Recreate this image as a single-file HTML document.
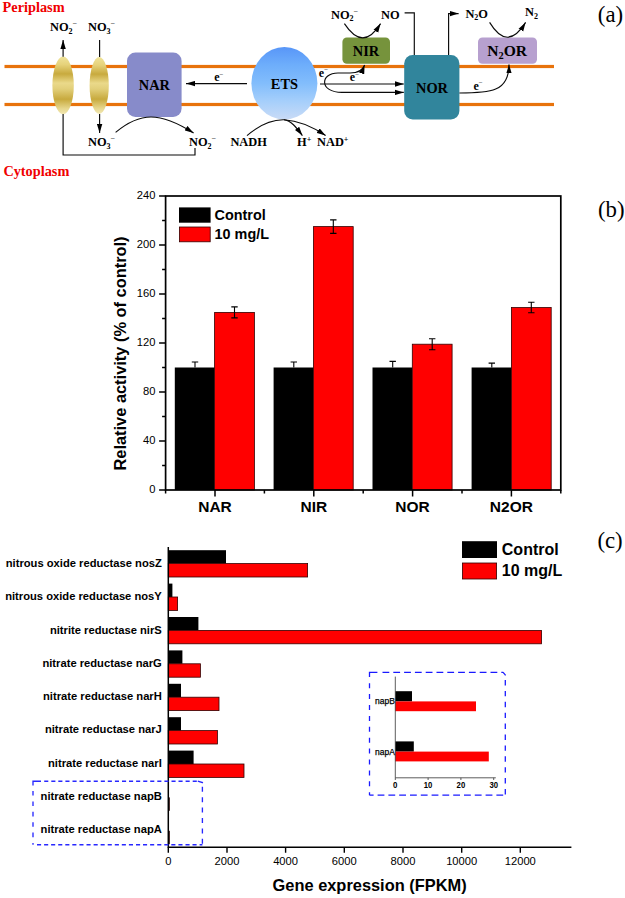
<!DOCTYPE html>
<html>
<head>
<meta charset="utf-8">
<title>Figure</title>
<style>
html,body{margin:0;padding:0;background:#fff;}
body{width:625px;height:898px;overflow:hidden;}
svg{display:block;}
.sb{font-family:"Liberation Serif",serif;font-weight:bold;fill:#000;}
.sr{font-family:"Liberation Serif",serif;fill:#000;}
.ab{font-family:"Liberation Sans",sans-serif;font-weight:bold;fill:#000;}
.ar{font-family:"Liberation Sans",sans-serif;fill:#000;}
</style>
</head>
<body>
<svg width="625" height="898" viewBox="0 0 625 898">
<defs>
<linearGradient id="gold" x1="0" y1="0" x2="0" y2="1">
<stop offset="0" stop-color="#efe39a"/>
<stop offset="0.14" stop-color="#e6d27a"/>
<stop offset="0.30" stop-color="#c8aa3e"/>
<stop offset="0.46" stop-color="#ead98a"/>
<stop offset="0.56" stop-color="#e2cf7a"/>
<stop offset="0.74" stop-color="#c8aa3e"/>
<stop offset="0.90" stop-color="#e6d68c"/>
<stop offset="1" stop-color="#f2e8b4"/>
</linearGradient>
<linearGradient id="ets" x1="0" y1="0" x2="0" y2="1">
<stop offset="0" stop-color="#5896f8"/>
<stop offset="0.25" stop-color="#6eaefb"/>
<stop offset="0.5" stop-color="#82bdfc"/>
<stop offset="0.75" stop-color="#a6cffb"/>
<stop offset="1" stop-color="#c9dbf6"/>
</linearGradient>
<marker id="ah" viewBox="0 0 10 6" refX="10" refY="3" markerWidth="9" markerHeight="6" markerUnits="userSpaceOnUse" orient="auto-start-reverse">
<path d="M0,0 L10,3 L0,6 Z" fill="#000"/>
</marker>
</defs>
<rect x="0" y="0" width="625" height="898" fill="#fff"/>

<!-- ================= PANEL A ================= -->
<g id="panelA">
<!-- membrane -->
<rect x="4.5" y="64.9" width="549.5" height="3.2" fill="#e8730c"/>
<rect x="4.5" y="102.9" width="549.5" height="3.2" fill="#e8730c"/>
<!-- transporters -->
<ellipse cx="63.1" cy="85.4" rx="10.7" ry="28.8" fill="url(#gold)"/>
<ellipse cx="99.2" cy="85.5" rx="9.6" ry="28.4" fill="url(#gold)"/>
<!-- boxes -->
<rect x="127" y="52.5" width="54.6" height="64.5" rx="8.5" fill="#878bca"/>
<ellipse cx="284.4" cy="83.3" rx="33" ry="36.3" fill="url(#ets)"/>
<rect x="342.4" y="37.5" width="47.6" height="26.2" rx="4.5" fill="#76933c"/>
<rect x="404.2" y="55" width="55.2" height="64.6" rx="8.5" fill="#31859c"/>
<rect x="478" y="37.5" width="59" height="26.2" rx="4.5" fill="#b7a0cf"/>
<!-- lines / arrows -->
<g fill="none" stroke="#0a0a0a" stroke-width="1.15">
<path d="M63.1,56.8 L63.1,39.9" marker-end="url(#ah)"/>
<path d="M99.6,40 L99.6,57"/>
<path d="M99.6,114 L99.6,133" marker-end="url(#ah)"/>
<path d="M63.1,114 L63.1,155 L195,155 L195,148"/>
<path d="M115.6,132.4 C128,122 140,117 151,117 C166,117 180,124.4 193.6,133" marker-end="url(#ah)"/>
<path d="M247,83.6 L186,83.6" marker-end="url(#ah)"/>
<path d="M320,84 L403.8,84" marker-end="url(#ah)"/>
<path d="M364.6,65 C362.5,71 358,73 350,73 L338,73 C320,73 319,92.4 342,92.4 L403.8,92.4" marker-start="url(#ah)" marker-end="url(#ah)"/>
<path d="M344.4,23.6 Q363,52 380.6,23.6" marker-end="url(#ah)"/>
<path d="M404.6,12.8 L414.3,12.8 L414.3,55"/>
<path d="M448.6,55 L448.6,13.6 L458.6,13.6" marker-end="url(#ah)"/>
<path d="M489.6,22.4 Q507.4,52 525.6,22.4" marker-end="url(#ah)"/>
<path d="M459.4,93 C490,93 509,92 509,64.4" marker-end="url(#ah)"/>
<path d="M247,135.6 Q266,119.4 284,119.8 C291,120.6 296,127 302.4,135.6" marker-end="url(#ah)"/>
<path d="M284,119.8 Q304,121 325.6,135.6" marker-end="url(#ah)"/>
</g>
<!-- text -->
<text class="sb" x="2.6" y="11.8" font-size="14.3" style="fill:#f00000">Periplasm</text>
<text class="sb" x="3.4" y="176.2" font-size="14.3" style="fill:#f00000">Cytoplasm</text>
<text class="sb" x="50" y="31" font-size="12.4">NO<tspan font-size="8" dy="2.6">2</tspan><tspan font-size="8" dy="-7.6" font-weight="normal">−</tspan></text>
<text class="sb" x="88" y="31" font-size="12.4">NO<tspan font-size="8" dy="2.6">3</tspan><tspan font-size="8" dy="-7.6" font-weight="normal">−</tspan></text>
<text class="sb" x="88" y="146.4" font-size="12.4">NO<tspan font-size="8" dy="2.6">3</tspan><tspan font-size="8" dy="-7.6" font-weight="normal">−</tspan></text>
<text class="sb" x="189" y="146.4" font-size="12.4">NO<tspan font-size="8" dy="2.6">2</tspan><tspan font-size="8" dy="-7.6" font-weight="normal">−</tspan></text>
<text class="sb" x="331" y="18.6" font-size="12.4">NO<tspan font-size="8" dy="2.6">2</tspan><tspan font-size="8" dy="-7.6" font-weight="normal">−</tspan></text>
<text class="sb" x="381" y="18.6" font-size="12.4">NO</text>
<text class="sb" x="465.4" y="17.6" font-size="12.4">N<tspan font-size="8" dy="2.6">2</tspan><tspan dy="-2.6">O</tspan></text>
<text class="sb" x="525" y="16.2" font-size="12.4">N<tspan font-size="8" dy="2.6">2</tspan></text>
<text class="sb" x="230.4" y="146.4" font-size="12.4">NADH</text>
<text class="sb" x="297" y="146.4" font-size="12.4">H<tspan font-size="8" dy="-4">+</tspan></text>
<text class="sb" x="317" y="146.4" font-size="12.4">NAD<tspan font-size="8" dy="-4">+</tspan></text>
<text class="sb" x="154.4" y="89.6" font-size="14.4" text-anchor="middle">NAR</text>
<text class="sb" x="284.4" y="88.6" font-size="14.4" text-anchor="middle">ETS</text>
<text class="sb" x="366" y="56" font-size="14.4" text-anchor="middle">NIR</text>
<text class="sb" x="432" y="92.6" font-size="14.4" text-anchor="middle">NOR</text>
<text class="sb" x="507.2" y="56" font-size="15.6" text-anchor="middle">N<tspan font-size="10.4" dy="3.2">2</tspan><tspan dy="-3.2">OR</tspan></text>
<text class="sb" x="214.2" y="81.4" font-size="12">e<tspan font-size="7" dy="-4.4" font-weight="normal">−</tspan></text>
<text class="sb" x="318.8" y="76.6" font-size="12">e<tspan font-size="7" dy="-4.4" font-weight="normal">−</tspan></text>
<text class="sb" x="349.8" y="81.2" font-size="12">e<tspan font-size="7" dy="-4.4" font-weight="normal">−</tspan></text>
<text class="sb" x="473.4" y="89.6" font-size="12">e<tspan font-size="7" dy="-4.4" font-weight="normal">−</tspan></text>
<text class="sr" x="597.8" y="21.5" font-size="22.8">(a)</text>
</g>

<g id="panelB">
<path d="M195.0,367.5 L195.0,362.0 M191.8,362.0 L198.2,362.0" stroke="#000" stroke-width="1.1" fill="none"/>
<rect x="174.8" y="367.5" width="39.8" height="122.5" fill="#000"/>
<rect x="214.6" y="312.4" width="39.8" height="177.6" fill="#ff0000" stroke="#300" stroke-width="0.8"/>
<path d="M234.5,317.9 L234.5,306.9 M231.3,306.9 L237.7,306.9 M231.3,317.9 L237.7,317.9" stroke="#000" stroke-width="1.1" fill="none"/>
<path d="M293.8,367.5 L293.8,362.0 M290.6,362.0 L297.0,362.0" stroke="#000" stroke-width="1.1" fill="none"/>
<rect x="273.6" y="367.5" width="39.8" height="122.5" fill="#000"/>
<rect x="313.4" y="226.6" width="39.8" height="263.4" fill="#ff0000" stroke="#300" stroke-width="0.8"/>
<path d="M333.3,233.4 L333.3,219.9 M330.1,219.9 L336.5,219.9 M330.1,233.4 L336.5,233.4" stroke="#000" stroke-width="1.1" fill="none"/>
<path d="M392.7,367.5 L392.7,361.4 M389.5,361.4 L395.9,361.4" stroke="#000" stroke-width="1.1" fill="none"/>
<rect x="372.5" y="367.5" width="39.8" height="122.5" fill="#000"/>
<rect x="412.3" y="344.2" width="39.8" height="145.8" fill="#ff0000" stroke="#300" stroke-width="0.8"/>
<path d="M432.2,349.7 L432.2,338.7 M429.0,338.7 L435.4,338.7 M429.0,349.7 L435.4,349.7" stroke="#000" stroke-width="1.1" fill="none"/>
<path d="M491.8,367.5 L491.8,363.1 M488.6,363.1 L495.0,363.1" stroke="#000" stroke-width="1.1" fill="none"/>
<rect x="471.6" y="367.5" width="39.8" height="122.5" fill="#000"/>
<rect x="511.4" y="307.5" width="39.8" height="182.5" fill="#ff0000" stroke="#300" stroke-width="0.8"/>
<path d="M531.3,312.7 L531.3,302.2 M528.1,302.2 L534.5,302.2 M528.1,312.7 L534.5,312.7" stroke="#000" stroke-width="1.1" fill="none"/>
<rect x="165.6" y="196" width="395.2" height="294" fill="none" stroke="#000" stroke-width="1.7"/>
<path d="M159.1,490.0 L165.6,490.0 M162.1,465.5 L165.6,465.5 M159.1,441.0 L165.6,441.0 M162.1,416.5 L165.6,416.5 M159.1,392.0 L165.6,392.0 M162.1,367.5 L165.6,367.5 M159.1,343.0 L165.6,343.0 M162.1,318.5 L165.6,318.5 M159.1,294.0 L165.6,294.0 M162.1,269.5 L165.6,269.5 M159.1,245.0 L165.6,245.0 M162.1,220.5 L165.6,220.5 M159.1,196.0 L165.6,196.0 M165.6,490 L165.6,493.5 M215.0,490 L215.0,496.5 M264.4,490 L264.4,493.5 M313.8,490 L313.8,496.5 M363.2,490 L363.2,493.5 M412.6,490 L412.6,496.5 M462.0,490 L462.0,493.5 M511.4,490 L511.4,496.5 M560.8,490 L560.8,493.5" stroke="#000" stroke-width="1.5" fill="none"/>
<text class="ar" x="155.4" y="493.4" font-size="11.2" text-anchor="end">0</text>
<text class="ar" x="155.4" y="444.4" font-size="11.2" text-anchor="end">40</text>
<text class="ar" x="155.4" y="395.4" font-size="11.2" text-anchor="end">80</text>
<text class="ar" x="155.4" y="346.4" font-size="11.2" text-anchor="end">120</text>
<text class="ar" x="155.4" y="297.4" font-size="11.2" text-anchor="end">160</text>
<text class="ar" x="155.4" y="248.4" font-size="11.2" text-anchor="end">200</text>
<text class="ar" x="155.4" y="199.4" font-size="11.2" text-anchor="end">240</text>
<text class="ab" x="215.0" y="512" font-size="15.5" text-anchor="middle">NAR</text>
<text class="ab" x="313.8" y="512" font-size="15.5" text-anchor="middle">NIR</text>
<text class="ab" x="412.6" y="512" font-size="15.5" text-anchor="middle">NOR</text>
<text class="ab" x="511.4" y="512" font-size="15.5" text-anchor="middle">N2OR</text>
<text class="ab" transform="translate(126.3,353.5) rotate(-90)" font-size="16.4" text-anchor="middle">Relative activity (% of control)</text>
<rect x="179" y="207.4" width="31.6" height="15.3" fill="#000"/>
<rect x="179.4" y="227" width="30.8" height="14.8" fill="#ff0000" stroke="#300" stroke-width="0.8"/>
<text class="ab" x="214.6" y="219.6" font-size="14.4">Control</text>
<text class="ab" x="214.6" y="238.6" font-size="14.4">10 mg/L</text>
<text class="sr" x="598" y="216.5" font-size="22.8">(b)</text>
</g>

<g id="panelC">
<rect x="168.3" y="550.2" width="57.7" height="13.4" fill="#000"/>
<rect x="168.3" y="563.6" width="139.3" height="13.4" fill="#ff0000" stroke="#300" stroke-width="0.8"/>
<text class="ab" x="161.8" y="567.1" font-size="11.2" text-anchor="end">nitrous oxide reductase nosZ</text>
<rect x="168.3" y="583.6" width="4.1" height="13.4" fill="#000"/>
<rect x="168.3" y="597.0" width="9.3" height="13.4" fill="#ff0000" stroke="#300" stroke-width="0.8"/>
<text class="ab" x="161.8" y="600.3" font-size="11.2" text-anchor="end">nitrous oxide reductase nosY</text>
<rect x="168.3" y="617.0" width="30.1" height="13.4" fill="#000"/>
<rect x="168.3" y="630.4" width="373.3" height="13.4" fill="#ff0000" stroke="#300" stroke-width="0.8"/>
<text class="ab" x="161.8" y="633.6" font-size="11.2" text-anchor="end">nitrite reductase nirS</text>
<rect x="168.3" y="650.4" width="14.1" height="13.4" fill="#000"/>
<rect x="168.3" y="663.8" width="32.1" height="13.4" fill="#ff0000" stroke="#300" stroke-width="0.8"/>
<text class="ab" x="161.8" y="666.8" font-size="11.2" text-anchor="end">nitrate reductase narG</text>
<rect x="168.3" y="683.8" width="12.7" height="13.4" fill="#000"/>
<rect x="168.3" y="697.2" width="50.7" height="13.4" fill="#ff0000" stroke="#300" stroke-width="0.8"/>
<text class="ab" x="161.8" y="700.1" font-size="11.2" text-anchor="end">nitrate reductase narH</text>
<rect x="168.3" y="717.2" width="12.7" height="13.4" fill="#000"/>
<rect x="168.3" y="730.6" width="49.1" height="13.4" fill="#ff0000" stroke="#300" stroke-width="0.8"/>
<text class="ab" x="161.8" y="733.3" font-size="11.2" text-anchor="end">nitrate reductase narJ</text>
<rect x="168.3" y="750.6" width="25.3" height="13.4" fill="#000"/>
<rect x="168.3" y="764.0" width="75.7" height="13.4" fill="#ff0000" stroke="#300" stroke-width="0.8"/>
<text class="ab" x="161.8" y="766.5" font-size="11.2" text-anchor="end">nitrate reductase narI</text>
<rect x="168.3" y="797.4" width="1.5" height="13.4" fill="#200"/>
<text class="ab" x="161.8" y="799.8" font-size="11.2" text-anchor="end">nitrate reductase napB</text>
<rect x="168.3" y="830.8" width="1.5" height="13.4" fill="#200"/>
<text class="ab" x="161.8" y="833.0" font-size="11.2" text-anchor="end">nitrate reductase napA</text>
<path d="M168.3,547 L168.3,847.2 L571.4,847.2" fill="none" stroke="#000" stroke-width="1.5"/>
<text class="ar" x="168.3" y="865.3" font-size="11.2" text-anchor="middle">0</text>
<text class="ar" x="227.0" y="865.3" font-size="11.2" text-anchor="middle">2000</text>
<text class="ar" x="285.6" y="865.3" font-size="11.2" text-anchor="middle">4000</text>
<text class="ar" x="344.3" y="865.3" font-size="11.2" text-anchor="middle">6000</text>
<text class="ar" x="403.0" y="865.3" font-size="11.2" text-anchor="middle">8000</text>
<text class="ar" x="461.7" y="865.3" font-size="11.2" text-anchor="middle">10000</text>
<text class="ar" x="520.3" y="865.3" font-size="11.2" text-anchor="middle">12000</text>
<path d="M168.3,847.2 L168.3,852.8000000000001 M227.0,847.2 L227.0,852.8000000000001 M285.6,847.2 L285.6,852.8000000000001 M344.3,847.2 L344.3,852.8000000000001 M403.0,847.2 L403.0,852.8000000000001 M461.7,847.2 L461.7,852.8000000000001 M520.3,847.2 L520.3,852.8000000000001" stroke="#000" stroke-width="1.4" fill="none"/>
<text class="ab" x="369.6" y="890.7" font-size="16.4" text-anchor="middle">Gene expression (FPKM)</text>
<rect x="462" y="541.2" width="35" height="16.8" fill="#000"/>
<rect x="462.4" y="563" width="34.2" height="16" fill="#ff0000" stroke="#300" stroke-width="0.8"/>
<text class="ab" x="501.8" y="555.2" font-size="16">Control</text>
<text class="ab" x="501.8" y="575.6" font-size="16">10 mg/L</text>
<text class="sr" x="597.4" y="548" font-size="22.8">(c)</text>
<path d="M33.0,785.5 L33.0,781.2 L41,781.2 M44.2,781.2 L48.3,781.2 M51.3,781.2 L55.4,781.2 M58.3,781.2 L62.4,781.2 M65.4,781.2 L69.5,781.2 M72.5,781.2 L76.6,781.2 M79.5,781.2 L83.6,781.2 M86.6,781.2 L90.7,781.2 M93.7,781.2 L97.8,781.2 M100.8,781.2 L104.9,781.2 M107.8,781.2 L111.9,781.2 M114.9,781.2 L119.0,781.2 M122.0,781.2 L126.1,781.2 M129.0,781.2 L133.1,781.2 M136.1,781.2 L140.2,781.2 M143.2,781.2 L147.3,781.2 M150.2,781.2 L154.3,781.2 M157.3,781.2 L161.4,781.2 M164.4,781.2 L168.5,781.2 M171.5,781.2 L175.6,781.2 M178.5,781.2 L182.6,781.2 M185.6,781.2 L189.7,781.2 M192.7,781.2 L196.8,781.2 M197.8,781.2 L202.4,782.6 L202.4,783.2 M37.0,844.7 L41.1,844.7 M44.1,844.7 L48.2,844.7 M51.1,844.7 L55.2,844.7 M58.2,844.7 L62.3,844.7 M65.3,844.7 L69.4,844.7 M72.3,844.7 L76.4,844.7 M79.4,844.7 L83.5,844.7 M86.5,844.7 L90.6,844.7 M93.6,844.7 L97.7,844.7 M100.6,844.7 L104.7,844.7 M107.7,844.7 L111.8,844.7 M114.8,844.7 L118.9,844.7 M121.8,844.7 L125.9,844.7 M128.9,844.7 L133.0,844.7 M136.0,844.7 L140.1,844.7 M143.0,844.7 L147.1,844.7 M150.1,844.7 L154.2,844.7 M157.2,844.7 L161.3,844.7 M164.3,844.7 L168.4,844.7 M171.3,844.7 L175.4,844.7 M178.4,844.7 L182.5,844.7 M185.5,844.7 L189.6,844.7 M192.5,844.7 L196.6,844.7 M199.6,844.7 L202.4,844.7 M33.0,791.0 L33.0,795.6 M33.0,801.4 L33.0,806.0 M33.0,811.8 L33.0,816.4 M33.0,822.2 L33.0,826.8 M33.0,832.6 L33.0,837.2 M33.0,843.0 L33.0,844.7 M202.4,786.8 L202.4,791.8 M202.4,797.2 L202.4,802.2 M202.4,807.6 L202.4,812.6 M202.4,818.0 L202.4,823.0 M202.4,828.4 L202.4,833.4 M202.4,838.8 L202.4,843.8" fill="none" stroke="#2828ff" stroke-width="1.35"/>
<path d="M369.5,676.9 L369.5,672.3 L377.4,672.3 M382.5,672.3 L389.3,672.3 M393.3,672.3 L400.1,672.3 M404.1,672.3 L410.9,672.3 M414.9,672.3 L421.7,672.3 M425.7,672.3 L432.5,672.3 M436.5,672.3 L443.3,672.3 M447.3,672.3 L454.1,672.3 M458.1,672.3 L464.9,672.3 M468.9,672.3 L475.7,672.3 M479.7,672.3 L486.5,672.3 M490.5,672.3 L497.3,672.3 M501.3,672.3 L503.3,672.3 M503.1,672.3 L505.3,674.9 L505.3,675.5 M369.5,795.2 L373.6,795.2 M377.6,795.2 L384.4,795.2 M388.4,795.2 L395.2,795.2 M399.2,795.2 L406.0,795.2 M410.0,795.2 L416.8,795.2 M420.8,795.2 L427.6,795.2 M431.6,795.2 L438.4,795.2 M442.4,795.2 L449.2,795.2 M453.2,795.2 L460.0,795.2 M464.0,795.2 L470.8,795.2 M474.8,795.2 L481.6,795.2 M485.6,795.2 L492.4,795.2 M496.4,795.2 L503.2,795.2 M369.5,683.2 L369.5,688.2 M369.5,694.1 L369.5,699.1 M369.5,705.0 L369.5,710.0 M369.5,715.9 L369.5,720.9 M369.5,726.8 L369.5,731.8 M369.5,737.7 L369.5,742.7 M369.5,748.6 L369.5,753.6 M369.5,759.5 L369.5,764.5 M369.5,770.4 L369.5,775.4 M369.5,781.3 L369.5,786.3 M369.5,792.2 L369.5,795.2 M505.3,680.0 L505.3,685.4 M505.3,690.9 L505.3,696.3 M505.3,701.8 L505.3,707.2 M505.3,712.7 L505.3,718.1 M505.3,723.6 L505.3,729.0 M505.3,734.5 L505.3,739.9 M505.3,745.4 L505.3,750.8 M505.3,756.3 L505.3,761.7 M505.3,767.2 L505.3,772.6 M505.3,778.1 L505.3,783.5 M505.3,789.0 L505.3,794.4" fill="none" stroke="#1a1aff" stroke-width="1.3"/>
<rect x="395.3" y="691.2" width="16.7" height="10.2" fill="#000"/>
<rect x="395.3" y="701.4" width="80.7" height="9.8" fill="#ff0000"/>
<rect x="395.3" y="741.4" width="18.5" height="10.2" fill="#000"/>
<rect x="395.3" y="751.6" width="93.5" height="9.8" fill="#ff0000"/>
<path d="M395.3,676.6 L395.3,777.8 L495.8,777.8" fill="none" stroke="#333" stroke-width="0.8"/>
<text class="ab" x="395.3" y="788.2" font-size="8.8" text-anchor="middle" textLength="4.4" lengthAdjust="spacingAndGlyphs">0</text>
<text class="ab" x="428.1" y="788.2" font-size="8.8" text-anchor="middle" textLength="8.6" lengthAdjust="spacingAndGlyphs">10</text>
<text class="ab" x="460.9" y="788.2" font-size="8.8" text-anchor="middle" textLength="8.6" lengthAdjust="spacingAndGlyphs">20</text>
<text class="ab" x="493.7" y="788.2" font-size="8.8" text-anchor="middle" textLength="8.6" lengthAdjust="spacingAndGlyphs">30</text>
<path d="M395.3,777.8 L395.3,780.0 M428.1,777.8 L428.1,780.0 M460.9,777.8 L460.9,780.0 M493.7,777.8 L493.7,780.0" stroke="#333" stroke-width="0.8" fill="none"/>
<text class="ar" x="375" y="704" font-size="8.6" textLength="19.8" lengthAdjust="spacingAndGlyphs" stroke="#000" stroke-width="0.25">napB</text>
<text class="ar" x="375" y="754.6" font-size="8.6" textLength="19.8" lengthAdjust="spacingAndGlyphs" stroke="#000" stroke-width="0.25">napA</text>
</g>

</svg>
</body>
</html>
